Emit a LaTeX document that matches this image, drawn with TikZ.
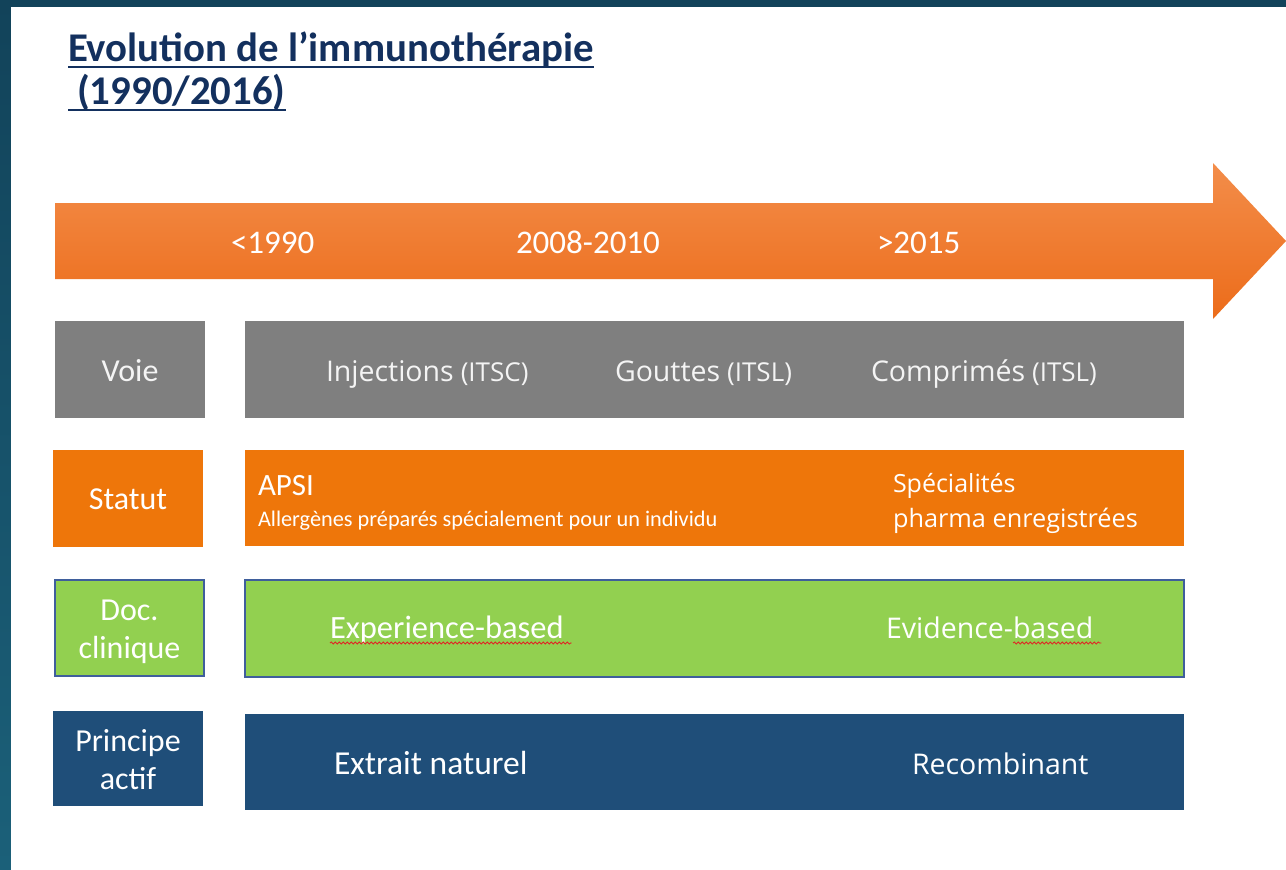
\documentclass[tikz,border=0pt]{standalone}
\usepackage{fontspec}
\setmainfont{Carlito}
\newfontfamily\segoe{Open Sans}
\usetikzlibrary{decorations.pathmorphing}
\definecolor{bgtop}{HTML}{12435A}
\definecolor{bgbot}{HTML}{1B6079}
\definecolor{titlecol}{HTML}{13305E}
\definecolor{arrtop}{HTML}{F38D4A}
\definecolor{arrbot}{HTML}{EC6C1A}
\definecolor{grayc}{HTML}{7F7F7F}
\definecolor{orangec}{HTML}{EE760A}
\definecolor{greenc}{HTML}{92D050}
\definecolor{greenborder}{HTML}{3F5E9C}
\definecolor{navyc}{HTML}{1F4E79}
\definecolor{offwhite}{HTML}{F4F4F4}
\definecolor{spellred}{HTML}{E02424}
\begin{document}
\begin{tikzpicture}[x=1pt,y=-1pt,
  boxgen/.style={inner sep=0pt, outer sep=0pt, anchor=north west},
  leftbox/.style={boxgen, minimum width=150pt, minimum height=97pt},
  rightbox/.style={boxgen, minimum width=939pt, minimum height=97pt},
  txt/.style={inner sep=0pt, outer sep=0pt, anchor=base west, text=offwhite},
  cal/.style={font=\fontsize{32.5}{38}\selectfont},
  seg/.style={font=\segoe\fontsize{28.5}{34}\selectfont},
  small/.style={font=\segoe\fontsize{26}{30}\selectfont},
  lbl/.style={inner sep=0pt, outer sep=0pt, text=offwhite, align=center, font=\fontsize{32}{38}\selectfont},
  wave/.style={draw=spellred, line width=0.8pt, decorate,
    decoration={snake, amplitude=1.1pt, segment length=4pt}},
  uline/.style={draw=titlecol, line width=2pt}]
\useasboundingbox (0,0) rectangle (1286,870);
% background frame
\shade[top color=bgtop, bottom color=bgbot] (0,0) rectangle (1286,870);
\fill[white] (11,7) rectangle (1286,870);
% title
\node[txt, text=titlecol, font=\bfseries\fontsize{40.8}{44}\selectfont] (t1) at (68,61) {Evolution de l’immunothérapie};
\node[txt, text=titlecol, font=\bfseries\fontsize{40.8}{44}\selectfont] (t2) at (68,104) {\ (1990/2016)};
\draw[uline] ([yshift=-6pt]t1.base west) -- ([yshift=-6pt]t1.base east);
\draw[uline] ([yshift=-6pt]t2.base west) -- ([yshift=-6pt]t2.base east);
% timeline arrow
\shade[top color=arrtop, bottom color=arrbot]
  (55,203) -- (1213,203) -- (1213,163) -- (1286,241) -- (1213,319) -- (1213,279) -- (55,279) -- cycle;
\node[txt, text=white, font=\fontsize{33}{38}\selectfont] (y1) at (231,253) {<1990};
\node[txt, text=white, font=\fontsize{33}{38}\selectfont] (y2) at (516,253) {2008-2010};
\node[txt, text=white, font=\fontsize{33}{38}\selectfont] (y3) at (877,253) {>2015};
% row 1 : Voie
\node[leftbox, fill=grayc] (voieL) at (55,321) {};
\node[rightbox, fill=grayc] (voieR) at (245,321) {};
\node[lbl, anchor=base] (voieT) at (130,381) {Voie};
\node[txt, seg] (inj) at (326,381) {Injections};
\node[txt, small] (injS) at ([xshift=7pt]inj.base east) {(ITSC)};
\node[txt, seg] (gout) at (615,381) {Gouttes};
\node[txt, small] (goutS) at ([xshift=7pt]gout.base east) {(ITSL)};
\node[txt, seg] (comp) at (871,381) {Comprimés};
\node[txt, small] (compS) at ([xshift=7pt]comp.base east) {(ITSL)};
% row 2 : Statut
\node[leftbox, fill=orangec] (statL) at (53,450) {};
\node[rightbox, fill=orangec, minimum height=96pt] (statR) at (245,450) {};
\node[lbl, anchor=base, text=white] (statT) at (128,509) {Statut};
\node[txt, text=white, font=\fontsize{31}{36}\selectfont] (apsi) at (258,495) {APSI};
\node[txt, text=white, font=\fontsize{22.3}{26}\selectfont] (aller) at (258,526) {Allergènes préparés spécialement pour un individu};
\node[txt, text=white, font=\segoe\fontsize{25}{29}\selectfont] (spec1) at (893,492) {Spécialités};
\node[txt, text=white, font=\segoe\fontsize{25.3}{29}\selectfont] (spec2) at (893,527) {pharma enregistrées};
% row 3 : Doc. clinique
\node[leftbox, fill=greenc, draw=greenborder, line width=1.5pt, minimum width=149pt, minimum height=96pt] (docL) at (55,580) {};
\node[rightbox, fill=greenc, draw=greenborder, line width=1.5pt, minimum height=97pt] (docR) at (245,580) {};
\node[lbl, text=white] (docT) at (129.5,632) {Doc.\\clinique};
\node[txt, text=white, cal] (expT) at (330,638) {Experience-based};
\draw[wave] ([yshift=-5pt]expT.base west) -- ([yshift=-5pt,xshift=8pt]expT.base east);
\node[txt, text=white, seg] (evid) at (886,638) {Evidence-};
\node[txt, text=white, seg] (based) at (evid.base east) {based};
\draw[wave] ([yshift=-5pt]based.base west) -- ([yshift=-5pt,xshift=8pt]based.base east);
% row 4 : Principe actif
\node[leftbox, fill=navyc, minimum height=95pt] (prinL) at (53,711) {};
\node[rightbox, fill=navyc, minimum height=96pt] (prinR) at (245,714) {};
\node[lbl, text=white] (prinT) at (128,760) {Principe\\actif};
\node[txt, text=white, font=\fontsize{33.5}{38}\selectfont] (extr) at (334,774) {Extrait naturel};
\node[txt, text=white, seg] (recb) at (912,774) {Recombinant};
\end{tikzpicture}
\end{document}
